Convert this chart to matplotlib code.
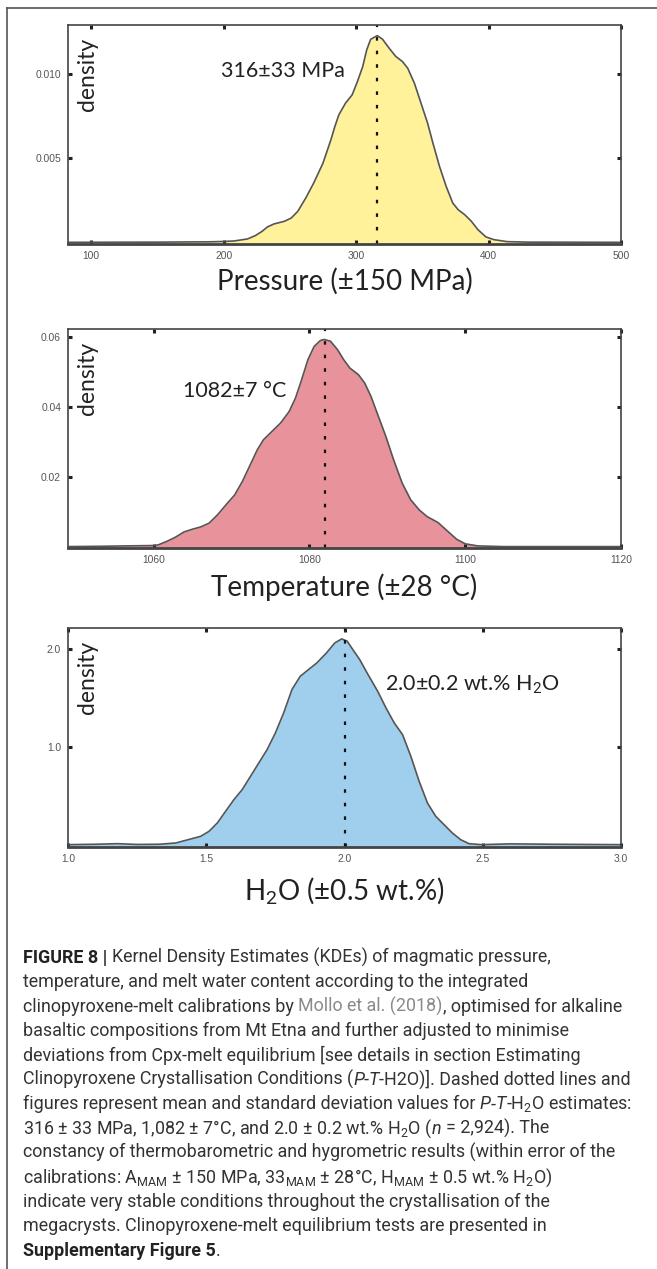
import matplotlib

matplotlib.use("Agg")
import matplotlib.pyplot as plt
from matplotlib import font_manager
from matplotlib.lines import Line2D

# KDE curves
pressure = [82.5, 150, 190, 200, 208, 218, 224, 229, 233, 238, 246, 251, 256, 262, 268,
            275, 281, 284, 287, 292, 297, 301, 305, 308, 311, 316, 320, 325, 330, 335,
            339, 344, 349, 354, 358, 363, 368, 373, 377, 382, 387, 392, 398, 404, 414,
            430, 500]
pressure_density = [0, 0.00001, 0.00003, 0.00005, 0.00008, 0.0002, 0.0004, 0.00065,
                    0.00091, 0.00109, 0.00125, 0.00144, 0.00184, 0.00263, 0.00352,
                    0.0047, 0.00609, 0.00688, 0.00757, 0.00826, 0.00875, 0.00954,
                    0.01043, 0.01142, 0.01205, 0.01227, 0.01205, 0.01152, 0.01103,
                    0.01073, 0.01033, 0.00945, 0.00826, 0.00707, 0.00589, 0.0045,
                    0.00332, 0.00233, 0.00194, 0.00164, 0.00125, 0.00075, 0.00032,
                    0.00016, 0.00004, 0.00001, 0]

temperature = [1049, 1053.6, 1056.3, 1060, 1060.6, 1061.7, 1062.8, 1063.9, 1065, 1066,
               1067.1, 1068.2, 1069.3, 1070.4, 1071.4, 1072.5, 1073.3, 1074.1, 1075.2,
               1076.3, 1077.4, 1078.2, 1079, 1079.8, 1080.6, 1081.4, 1081.9, 1082.7,
               1083.6, 1084.4, 1085.2, 1086.3, 1087.1, 1087.9, 1088.7, 1089.8, 1090.8,
               1091.9, 1093, 1094.1, 1095.1, 1096.5, 1097.8, 1098.9, 1100, 1101.6,
               1104.9, 1120]
temperature_density = [0, 0.0001, 0.0002, 0.0003, 0.0005, 0.0015, 0.0027, 0.0042, 0.005,
                       0.0056, 0.0067, 0.0091, 0.012, 0.0148, 0.0187, 0.0239, 0.0277,
                       0.0306, 0.033, 0.0354, 0.0387, 0.0425, 0.0478, 0.0535, 0.0573,
                       0.059, 0.0593, 0.0588, 0.0564, 0.0535, 0.0511, 0.0492, 0.0468,
                       0.043, 0.0382, 0.0316, 0.0249, 0.0182, 0.0134, 0.0105, 0.0086,
                       0.0069, 0.0043, 0.0021, 0.0008, 0.0002, 0, 0]

water = [1.0, 1.1, 1.18, 1.25, 1.33, 1.39, 1.435, 1.48, 1.51, 1.54, 1.57, 1.60, 1.63,
         1.66, 1.69, 1.72, 1.75, 1.78, 1.81, 1.84, 1.87, 1.90, 1.935, 1.965, 1.99, 2.01,
         2.03, 2.055, 2.085, 2.12, 2.15, 2.18, 2.21, 2.24, 2.27, 2.30, 2.33, 2.36, 2.39,
         2.42, 2.45, 2.495, 2.6, 2.75, 3.0]
water_density = [0, 0.004, 0.01, 0.002, 0.004, 0.017, 0.051, 0.085, 0.136, 0.221, 0.34,
                 0.459, 0.561, 0.697, 0.833, 0.969, 1.139, 1.344, 1.582, 1.718, 1.786,
                 1.854, 1.956, 2.058, 2.099, 2.075, 1.99, 1.888, 1.735, 1.565, 1.395,
                 1.241, 1.122, 0.901, 0.646, 0.425, 0.289, 0.204, 0.119, 0.051, 0.01, 0,
                 0.008, 0.004, 0]

means = [316, 1082, 2.0]
mean_labels = ["316±33 MPa", "1082±7 °C", "2.0±0.2 wt.% H$_2$O"]
axis_labels = ["Pressure (±150 MPa)", "Temperature (±28 °C)", "H$_2$O (±0.5 wt.%)"]
x_ticks = [[100, 200, 300, 400, 500], [1060, 1080, 1100, 1120], [1.0, 1.5, 2.0, 2.5, 3.0]]
x_ticklabels = [["100", "200", "300", "400", "500"], ["1060", "1080", "1100", "1120"],
                ["1.0", "1.5", "2.0", "2.5", "3.0"]]
y_ticks = [[0.005, 0.010], [0.02, 0.04, 0.06], [1.0, 2.0]]
y_ticklabels = [["0.005", "0.010"], ["0.02", "0.04", "0.06"], ["1.0", "2.0"]]
x_limits = [(82.5, 500), (1049, 1120), (1.0, 3.0)]
y_limits = [(-0.0001, 0.0129), (-0.0004, 0.0623), (-0.024, 2.21)]
fill_colors = ["#fff29b", "#e8939b", "#a0cfee"]

caption_lines = [
    [("FIGURE 8 | ", "bold"), ("Kernel Density Estimates (KDEs) of magmatic pressure,", "normal")],
    [("temperature, and melt water content according to the integrated", "normal")],
    [("clinopyroxene-melt calibrations by ", "normal"), ("Mollo et al. (2018)", "link"),
     (", optimised for alkaline", "normal")],
    [("basaltic compositions from Mt Etna and further adjusted to minimise", "normal")],
    [("deviations from Cpx-melt equilibrium [see details in section Estimating", "normal")],
    [("Clinopyroxene Crystallisation Conditions (", "normal"), ("P", "italic"), ("-", "normal"),
     ("T", "italic"), ("-H2O)]. Dashed dotted lines and", "normal")],
    [("figures represent mean and standard deviation values for ", "normal"), ("P", "italic"),
     ("-", "normal"), ("T", "italic"), ("-H$_2$O estimates:", "normal")],
    [("316 ± 33 MPa, 1,082 ± 7°C, and 2.0 ± 0.2 wt.% H$_2$O (", "normal"), ("n", "italic"),
     (" = 2,924). The", "normal")],
    [("constancy of thermobarometric and hygrometric results (within error of the", "normal")],
    [("calibrations: A$_{\\mathrm{MAM}}$ ± 150 MPa, 33$_{\\mathrm{MAM}}$ ± 28°C, "
      "H$_{\\mathrm{MAM}}$ ± 0.5 wt.% H$_2$O)", "normal")],
    [("indicate very stable conditions throughout the crystallisation of the", "normal")],
    [("megacrysts. Clinopyroxene-melt equilibrium tests are presented in", "normal")],
    [("Supplementary Figure 5", "bold"), (".", "normal")],
]

installed = {f.name for f in font_manager.fontManager.ttflist}
if "Liberation Sans Narrow" in installed:
    cap_family, cap_size = "Liberation Sans Narrow", 14.4
else:
    cap_family, cap_size = "Roboto", 12.9
label_family = "Lato"
tick_family = "Liberation Sans"

plt.rcParams["mathtext.fontset"] = "custom"
plt.rcParams["mathtext.rm"] = cap_family
plt.rcParams["mathtext.it"] = cap_family + ":italic"
plt.rcParams["mathtext.bf"] = cap_family + ":bold"

W, H = 657, 1269
fig = plt.figure(figsize=(W / 100, H / 100), dpi=100)
fig.patch.set_facecolor("white")

# outer frame (top and left edges only)
fig.add_artist(Line2D([7 / W, 1], [1 - 8 / H, 1 - 8 / H], color="#555555", lw=1.2))
fig.add_artist(Line2D([7 / W, 7 / W], [1 - 8 / H, 0], color="#555555", lw=1.2))

curves = [(pressure, pressure_density), (temperature, temperature_density),
          (water, water_density)]
tops = [25, 329, 628]
mean_pos = [(0.277, 0.763), (0.208, 0.689), (0.573, 0.717)]
label_drop = [46, 48, 52]

for i, (xs, ys) in enumerate(curves):
    top = tops[i]
    ax = fig.add_axes([68 / W, 1 - (top + 219) / H, 553 / W, 219 / H])
    ax.fill_between(xs, ys, y_limits[i][0], color=fill_colors[i], lw=0)
    ax.plot(xs, ys, color="#555555", lw=1.2, solid_joinstyle="round")
    ax.axvline(means[i], color="#111111", lw=1.6, linestyle=(0, (1.6, 4.5)))
    ax.set_xlim(*x_limits[i])
    ax.set_ylim(*y_limits[i])
    ax.set_xticks(x_ticks[i])
    ax.set_xticklabels(x_ticklabels[i])
    ax.set_yticks(y_ticks[i])
    ax.set_yticklabels(y_ticklabels[i])
    ax.tick_params(direction="in", length=3, width=2.2, color="#222222",
                   top=True, right=True, labelsize=7.4, labelcolor="#555555", pad=5)
    for lab in ax.get_xticklabels() + ax.get_yticklabels():
        lab.set_family(tick_family)
    for side, sp in ax.spines.items():
        sp.set_color("#444444")
        sp.set_linewidth(2.0 if side == "bottom" else 1.2)
    ax.text(0.036, 0.776, "density", transform=ax.transAxes, rotation=90,
            ha="center", va="center", fontsize=16.5, family=label_family, color="#222222")
    ax.text(mean_pos[i][0], mean_pos[i][1], mean_labels[i], transform=ax.transAxes,
            ha="left", va="baseline", fontsize=15.5, family=label_family, color="#222222")
    fig.text(344.5 / W, 1 - (top + 219 + label_drop[i]) / H, axis_labels[i],
             ha="center", va="baseline", fontsize=20, family=label_family, color="#222222")

# caption, drawn segment by segment so styles can change inside a line
renderer = fig.canvas.get_renderer()
styles = {
    "normal": dict(color="#333333"),
    "bold": dict(color="#222222", weight="bold"),
    "link": dict(color="#8a8a8a"),
    "italic": dict(color="#333333", style="italic"),
}


def text_width(s, **kw):
    t = fig.text(0, 0, s, fontsize=cap_size, family=cap_family, **kw)
    w = t.get_window_extent(renderer).width
    t.remove()
    return w


space_w = text_width("x x") - text_width("xx")
y0, step, x0 = 963, 24.4, 23
for n, line in enumerate(caption_lines):
    x = x0
    y = 1 - (y0 + n * step) / H
    for s, st in line:
        x += space_w * (len(s) - len(s.lstrip(" ")))
        core = s.strip(" ")
        t = fig.text(x / W, y, core, fontsize=cap_size, family=cap_family,
                     ha="left", va="baseline", **styles[st])
        x += t.get_window_extent(renderer).width
        x += space_w * (len(s) - len(s.rstrip(" ")))

fig.savefig("out.png", dpi=100)
